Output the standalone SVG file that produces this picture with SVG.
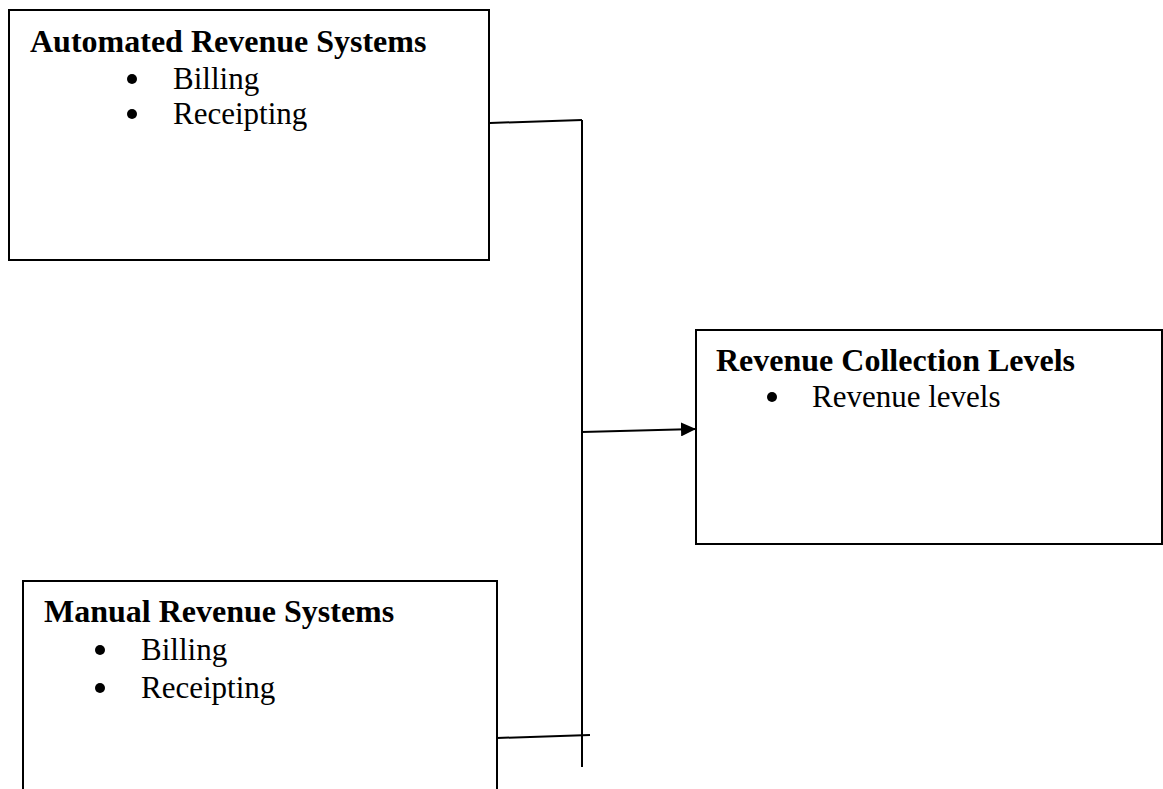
<svg xmlns="http://www.w3.org/2000/svg" width="1163" height="789" viewBox="0 0 1163 789">
<style>
.box{fill:#fff;stroke:#000;stroke-width:2}
.title{font-family:"Liberation Serif","Times New Roman",serif;font-weight:bold;font-size:32px;fill:#000}
.item{font-family:"Liberation Serif","Times New Roman",serif;font-size:31px;fill:#000}
.bul{fill:#000}
.conn{stroke:#000;stroke-width:2;fill:none}
</style>
<defs>
<marker id="arr" markerWidth="15" markerHeight="14" refX="15" refY="7" orient="auto" markerUnits="userSpaceOnUse">
<path d="M0,0 L15,7 L0,14 Z" fill="#000"/>
</marker>
</defs>
<rect width="1163" height="789" fill="#fff"/>
<g id="connectors">
<line class="conn" x1="490" y1="123" x2="582" y2="120"/>
<line class="conn" x1="582" y1="120" x2="582" y2="767"/>
<line class="conn" x1="497" y1="738" x2="590" y2="735"/>
<line class="conn" x1="582" y1="432" x2="696" y2="429" marker-end="url(#arr)"/>
</g>
<g id="automated">
<rect class="box" x="9" y="10" width="480" height="250"/>
<text class="title" x="30" y="52">Automated Revenue Systems</text>
<circle class="bul" cx="132" cy="79" r="5"/>
<text class="item" x="173" y="89">Billing</text>
<circle class="bul" cx="132" cy="114" r="5"/>
<text class="item" x="173" y="124">Receipting</text>
</g>
<g id="collection">
<rect class="box" x="696" y="330" width="466" height="214"/>
<text class="title" x="716" y="371">Revenue Collection Levels</text>
<circle class="bul" cx="772" cy="397" r="5"/>
<text class="item" x="812" y="407">Revenue levels</text>
</g>
<g id="manual">
<rect class="box" x="23" y="581" width="474" height="230"/>
<text class="title" x="44" y="622">Manual Revenue Systems</text>
<circle class="bul" cx="100" cy="650" r="5"/>
<text class="item" x="141" y="660">Billing</text>
<circle class="bul" cx="100" cy="688" r="5"/>
<text class="item" x="141" y="698">Receipting</text>
</g>
</svg>
